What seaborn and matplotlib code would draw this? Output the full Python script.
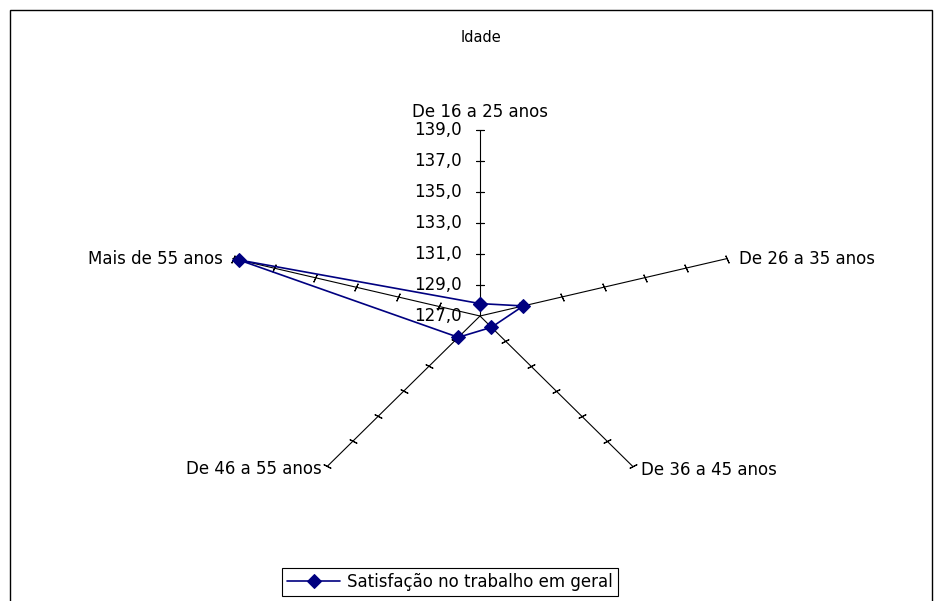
import numpy as np
import pandas as pd
import matplotlib
matplotlib.use("Agg")
import matplotlib.pyplot as plt
from matplotlib.patches import Rectangle
import seaborn as sns

# Radar chart data
categories = ["De 16 a 25 anos", "De 26 a 35 anos", "De 36 a 45 anos",
              "De 46 a 55 anos", "Mais de 55 anos"]
values = [127.8, 129.1, 127.9, 128.7, 138.7]
r_ticks = [127, 129, 131, 133, 135, 137, 139]
series_name = "Satisfação no trabalho em geral"
title = "Idade"

sns.set_theme(style="white")
plt.rcParams["font.family"] = ["DejaVu Sans"]
plt.rcParams["text.color"] = "black"

W, H = 935, 601
fig = plt.figure(figsize=(W / 100, H / 100), dpi=100)
fig.patch.set_facecolor("white")

# chart frame (open at the bottom edge)
fig.add_artist(Rectangle((10 / W, -0.05), (932 - 10) / W, (H - 10) / H + 0.05,
                         transform=fig.transFigure, fill=False,
                         edgecolor="black", lw=1.0))

fig.text(481 / W, 1 - 37 / H, title, ha="center", va="center", fontsize=10.5,
         color="black")

# radar area, stretched horizontally
cx, cy, rx, ry = 480, 316, 260, 186
ax = fig.add_axes([(cx - rx) / W, 1 - (cy + ry) / H, 2 * rx / W, 2 * ry / H],
                  projection="polar")
ax.set_aspect("auto")
ax.set_theta_zero_location("N")
ax.set_theta_direction(-1)
ax.set_ylim(r_ticks[0], r_ticks[-1])
ax.grid(False)
ax.spines["polar"].set_visible(False)
ax.set_xticks([])
ax.set_yticks([])
ax.patch.set_visible(False)

n = len(categories)
theta = np.linspace(0, 2 * np.pi, n, endpoint=False)

# spokes with crossing tick marks
for t in theta:
    ax.plot([t, t], [r_ticks[0], r_ticks[-1]], color="black", lw=0.8,
            clip_on=False, zorder=1)
    phi = np.pi / 2 - t  # math angle on screen
    tick_dir = np.degrees(np.arctan2(ry * np.cos(phi), -rx * np.sin(phi)))
    ax.plot([t] * (len(r_ticks) - 1), r_ticks[1:], linestyle="none",
            marker=(2, 2, tick_dir - 90), markersize=6, markeredgewidth=0.8,
            color="black", clip_on=False, zorder=1)

# value labels along the first spoke
for v in r_ticks:
    ax.annotate(f"{v:.1f}".replace(".", ","), xy=(0, v), xytext=(-18, 0),
                textcoords="offset pixels", ha="right", va="center",
                fontsize=12, color="black", annotation_clip=False)

# category labels at spoke ends
label_pos = [((0, 18), "center"), ((12, 0), "left"), ((8, -4), "left"),
             ((-5, -3), "right"), ((-10, 0), "right")]
for t, name, (off, ha) in zip(theta, categories, label_pos):
    ax.annotate(name, xy=(t, r_ticks[-1]), xytext=off,
                textcoords="offset pixels", ha=ha, va="center",
                fontsize=12, color="black", annotation_clip=False)

df = pd.DataFrame({"theta": np.append(theta, theta[0] + 2 * np.pi),
                   "valor": values + values[:1]})
sns.lineplot(data=df, x="theta", y="valor", sort=False, estimator=None,
             color="#000080", lw=1.2, marker="D", markersize=7,
             markeredgecolor="#000080", label=series_name, ax=ax, zorder=3)
ax.set_xlabel("")
ax.set_ylabel("")
ax.set_xticks([])
ax.set_yticks([])
for line in ax.lines:
    line.set_clip_on(False)

handles, labels = ax.get_legend_handles_labels()
if ax.get_legend() is not None:
    ax.get_legend().remove()
leg = fig.legend(handles, labels, loc="center",
                 bbox_to_anchor=(450 / W, 1 - 582 / H), frameon=True,
                 fancybox=False, edgecolor="black", framealpha=1,
                 handlelength=3.2, fontsize=12, borderpad=0.3,
                 handletextpad=0.4, labelcolor="black")
leg.get_frame().set_linewidth(0.8)

fig.savefig("out.png", dpi=100, facecolor="white")
